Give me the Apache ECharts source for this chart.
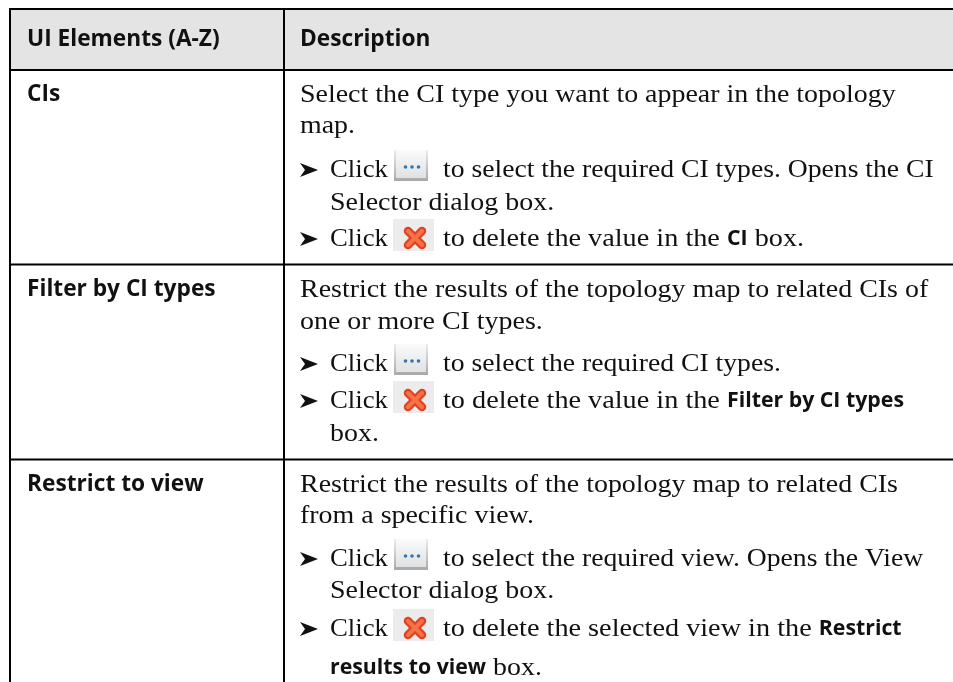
<!DOCTYPE html>
<html><head><meta charset="utf-8"><style>html,body{margin:0;background:#fff}#c{width:953px;height:682px}</style>
<script src="https://cdn.jsdelivr.net/npm/echarts@6/dist/echarts.min.js"></script></head>
<body><div id="c"></div>
<script>
const headers = ["UI Elements (A-Z)", "Description"];
const rowLabels = ["CIs", "Filter by CI types", "Restrict to view"];
// ** marks bold runs, [d] the browse button, [x] the delete icon, > a bullet
const row1Lines = ["Select the CI type you want to appear in the topology","map.",">Click [d]to select the required CI types. Opens the CI","|Selector dialog box.",">Click [x]to delete the value in the **CI** box."];
const row2Lines = ["Restrict the results of the topology map to related CIs of","one or more CI types.",">Click [d]to select the required CI types.",">Click [x]to delete the value in the **Filter by CI types**","|box."];
const row3Lines = ["Restrict the results of the topology map to related CIs","from a specific view.",">Click [d]to select the required view. Opens the View","|Selector dialog box.",">Click [x]to delete the selected view in the **Restrict**","|**results to view** box."];

const SERIF='"Liberation Serif"', SANS='"Open Sans"';
const SERIF_SIZE=25, HEAD_SIZE=22.7, INLINE_SIZE=21.3;
const SCALE={plain:1.117,browse:1.106,del:1.13,click:1.07};
const L=10,M=284,T=9,H=70,W=953,BOT=682,RULES=[264.5,459.5];
const baselines=[[102,133,177,210,246],[297,329,371,408,441],[492,523,566,598,636,675]];
const c=document.createElement('canvas').getContext('2d');
const g=[];
function rect(x,y,w,h,fill){g.push({type:'rect',shape:{x,y,width:w,height:h},style:{fill},silent:true});}
function grad(a,b){return new echarts.graphic.LinearGradient(0,0,0,1,[{offset:0,color:a},{offset:1,color:b}]);}
function txt(x,y,t,bold,size,scale){
  const s=size||(bold?HEAD_SIZE:SERIF_SIZE);
  g.push({type:'text',x,y:y+s*0.245-(bold?1.5:0),scaleX:bold?1:scale,style:{text:t,fill:'#111',
    font:(bold?'bold '+s+'px '+SANS:s+'px '+SERIF),verticalAlign:'bottom'},silent:true});
}
function width(t,bold,scale){c.font=bold?'bold '+INLINE_SIZE+'px "Open Sans"':SERIF_SIZE+'px "Liberation Serif"';return c.measureText(t).width*(bold?1:scale);}
function cross(x,y,stroke,lw){
  [[[x+14,y-14],[x+28,y]],[[x+28,y-14],[x+14,y]]].forEach(p=>
    g.push({type:'polyline',shape:{points:p},style:{stroke,lineWidth:lw,lineCap:'round'},silent:true}));
}
function icon(kind,x,base){
  if(kind==='d'){
    g.push({type:'rect',shape:{x,y:base-27,width:34,height:31},style:{fill:grad('#ececec','#a8a8a8')},silent:true});
    g.push({type:'rect',shape:{x:x+2,y:base-27,width:30,height:28},style:{fill:grad('#fbfbfb','#dfe1e3')},silent:true});
    [11.5,18,24.5].forEach(d=>g.push({type:'circle',shape:{cx:x+d,cy:base-10,r:1.8},style:{fill:'#2f78b4'},silent:true}));
  }else{
    rect(x-1,base-27,41,32,'#ececec');
    cross(x,base-1,'#dc4524',8.5);
    cross(x,base-1,'#f87248',4);
  }
}
function line(s,base){
  let x=300, scale=SCALE.plain;
  if(s[0]==='>'||s[0]==='|'){
    if(s[0]==='>')g.push({type:'polygon',shape:{points:[[300,base-14],[318,base-7],[300,base],[305,base-7]]},style:{fill:'#111'},silent:true});
    x=330;s=s.slice(1);
  }
  s.split(/(\*\*.*?\*\*|\[d\]|\[x\])/).forEach(p=>{
    if(!p)return;
    if(p==='[d]'||p==='[x]'){icon(p[1],394,base);x=443;scale=p==='[d]'?SCALE.browse:SCALE.del;}
    else if(p.startsWith('**')){const t=p.slice(2,-2);txt(x,base,t,true,INLINE_SIZE);x+=width(t,true);}
    else{const sc=p==='Click '?SCALE.click:scale;txt(x,base,p,false,null,sc);x+=width(p,false,sc);}
  });
}
rect(L,T,W-L,H-T,'#e4e4e4');
txt(27,47,headers[0],true);txt(300,47,headers[1],true);
[row1Lines,row2Lines,row3Lines].forEach((r,i)=>{
  txt(27,baselines[i][0],rowLabels[i],true);
  r.forEach((s,j)=>line(s,baselines[i][j]));
});
[T,H,RULES[0],RULES[1]].forEach(y=>rect(L-1,y-1,W-L+1,2,'#000'));
[L,M].forEach(x=>rect(x-1,T-1,2,BOT-T+1,'#000'));
const chart=echarts.init(document.getElementById('c'),null,{renderer:'canvas'});
chart.setOption({animation:false,graphic:{elements:g}});
</script></body></html>
